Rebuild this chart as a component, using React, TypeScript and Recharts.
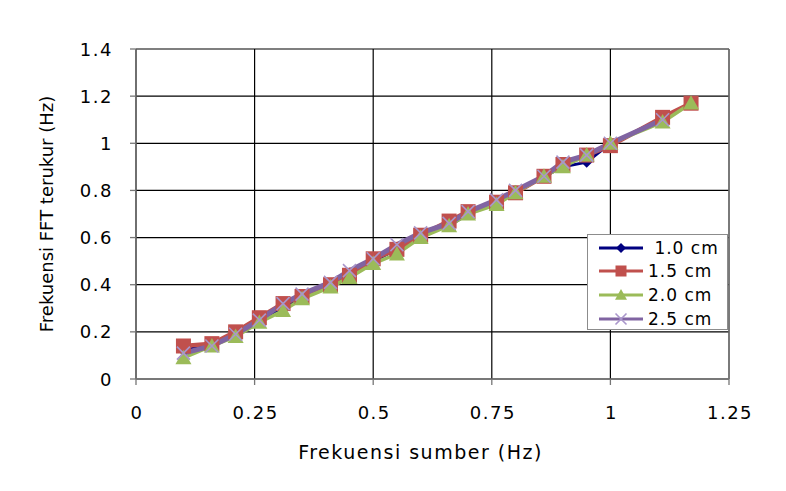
import React from 'react';
import {
    LineChart,
    Line,
    XAxis,
    YAxis,
    CartesianGrid,
    ReferenceLine,
    Label,
} from 'recharts';

// source frequency (Hz) for each measurement
const freqSource = [0.1, 0.16, 0.21, 0.26, 0.31, 0.35, 0.41, 0.45, 0.5, 0.55, 0.6, 0.66, 0.7, 0.76, 0.8, 0.86, 0.9, 0.95, 1.0, 1.11, 1.17];

// measured FFT frequency per water depth
const fft10 = [0.12, 0.15, 0.19, 0.25, 0.3, 0.35, 0.4, 0.45, 0.5, 0.55, 0.61, 0.65, 0.7, 0.75, 0.8, 0.86, 0.9, 0.92, 1.0];
const fft15 = [0.14, 0.15, 0.2, 0.26, 0.32, 0.35, 0.4, 0.44, 0.51, 0.55, 0.61, 0.67, 0.71, 0.75, 0.79, 0.86, 0.91, 0.95, 0.99, 1.11, 1.17];
const fft20 = [0.09, 0.14, 0.18, 0.24, 0.29, 0.34, 0.39, 0.43, 0.49, 0.53, 0.6, 0.65, 0.7, 0.74, 0.79, 0.86, 0.9, 0.95, 1.0, 1.09, 1.17];
const fft25 = [0.11, 0.14, 0.19, 0.25, 0.32, 0.36, 0.41, 0.46, 0.51, 0.57, 0.62, 0.66, 0.71, 0.76, 0.8, 0.86, 0.92, 0.95, 1.0, 1.1];

const seriesNames = [' 1.0 cm', '1.5 cm', '2.0 cm', '2.5 cm'];
const xTicks = [0, 0.25, 0.5, 0.75, 1, 1.25];
const yTicks = [0, 0.2, 0.4, 0.6, 0.8, 1, 1.2, 1.4];

const toPoints = (ys: number[]) => ys.map((y, i) => ({ x: freqSource[i], y }));

const FONT = '"DejaVu Sans", Verdana, sans-serif';
const BLUE = '#000080';
const RED = '#C0504D';
const GREEN = '#9BBB59';
const PURPLE = '#8064A2';
const LAVENDER = '#A996CB';

// marker shapes
const Diamond = ({ cx, cy, s = 5.5 }: any) => (
    <path d={`M${cx},${cy - s} L${cx + s},${cy} L${cx},${cy + s} L${cx - s},${cy} Z`} fill={BLUE} />
);
const Square = ({ cx, cy, s = 7.5 }: any) => (
    <rect x={cx - s} y={cy - s} width={s * 2} height={s * 2} fill={RED} />
);
const Triangle = ({ cx, cy, s = 8 }: any) => (
    <path d={`M${cx},${cy - s} L${cx + s},${cy + s * 0.8} L${cx - s},${cy + s * 0.8} Z`} fill={GREEN} />
);
const Cross = ({ cx, cy, s = 6.5 }: any) => (
    <path d={`M${cx - s},${cy - s} L${cx + s},${cy + s} M${cx + s},${cy - s} L${cx - s},${cy + s}`} stroke={LAVENDER} strokeWidth={1.6} fill="none" />
);

const dotOf = (Shape: any) => (props: any) => <Shape key={`${props.index}`} cx={props.cx} cy={props.cy} />;

const XTick = ({ x, y, payload }: any) => (
    <text x={x + 1} y={y + 32} textAnchor="middle" fontSize={18} letterSpacing={1.5} fill="#000" fontFamily={FONT}>
        {payload.value}
    </text>
);

const YTick = ({ x, y, payload }: any) => (
    <text x={x - 15} y={y + 6.5} textAnchor="end" fontSize={18} letterSpacing={1.5} fill="#000" fontFamily={FONT}>
        {payload.value}
    </text>
);

const YTitle = ({ viewBox }: any) => {
    const cy = viewBox.y + viewBox.height / 2;
    return (
        <text x={53} y={cy} transform={`rotate(-90 53 ${cy})`} textAnchor="middle" fontSize={18} fill="#000" fontFamily={FONT}>
            Frekuensi FFT terukur (Hz)
        </text>
    );
};

const XTitle = ({ viewBox }: any) => {
    const cx = viewBox.x + viewBox.width / 2 - 12;
    return (
        <text x={cx} y={459} textAnchor="middle" fontSize={19} letterSpacing={1.5} fill="#000" fontFamily={FONT}>
            Frekuensi sumber (Hz)
        </text>
    );
};

const legendItems = [
    { name: seriesNames[0], color: BLUE, Shape: Diamond, s: 5 },
    { name: seriesNames[1], color: RED, Shape: Square, s: 5.5 },
    { name: seriesNames[2], color: GREEN, Shape: Triangle, s: 6 },
    { name: seriesNames[3], color: PURPLE, Shape: Cross, s: 5.5 },
];

function ChartLegend() {
    return (
        <div
            style={{
                position: 'absolute',
                left: 587,
                top: 234,
                width: 141,
                height: 96,
                border: '1px solid #8c8c8c',
                background: '#fff',
                fontFamily: FONT,
                fontSize: 17,
                letterSpacing: 1,
                boxSizing: 'border-box',
                paddingTop: 1,
            }}
        >
            {legendItems.map((it) => (
                <div key={it.name} style={{ display: 'flex', alignItems: 'center', height: 23.6 }}>
                    <svg width={60} height={20} style={{ marginLeft: 9 }}>
                        <line x1={2} y1={10} x2={46} y2={10} stroke={it.color} strokeWidth={3} />
                        <it.Shape cx={24} cy={10} s={it.s} />
                    </svg>
                    <span style={{ marginLeft: -9, whiteSpace: 'pre', color: '#000' }}>{it.name}</span>
                </div>
            ))}
        </div>
    );
}

export default function App() {
    return (
        <div style={{ position: 'absolute', left: 0, top: 0, width: 786, height: 491, background: '#fff' }}>
            <LineChart width={786} height={491} margin={{ top: 49, right: 57, left: 0, bottom: 0 }}>
                <CartesianGrid stroke="#000" strokeWidth={1.2} />
                <XAxis
                    type="number"
                    dataKey="x"
                    domain={[0, 1.25]}
                    ticks={xTicks}
                    height={112}
                    tickSize={6}
                    stroke="#767676"
                    strokeWidth={1.3}
                    tick={<XTick />}
                    allowDataOverflow
                >
                    <Label content={<XTitle />} />
                </XAxis>
                <YAxis
                    type="number"
                    dataKey="y"
                    domain={[0, 1.4]}
                    ticks={yTicks}
                    width={136}
                    tickSize={6}
                    stroke="#767676"
                    strokeWidth={1.3}
                    tick={<YTick />}
                    allowDataOverflow
                >
                    <Label content={<YTitle />} />
                </YAxis>
                <ReferenceLine x={1.25} stroke="#868686" strokeWidth={1.3} />
                <Line data={toPoints(fft10)} dataKey="y" name={seriesNames[0]} stroke={BLUE} strokeWidth={3} dot={dotOf(Diamond)} isAnimationActive={false} />
                <Line data={toPoints(fft15)} dataKey="y" name={seriesNames[1]} stroke={RED} strokeWidth={4.5} dot={dotOf(Square)} isAnimationActive={false} />
                <Line data={toPoints(fft20)} dataKey="y" name={seriesNames[2]} stroke={GREEN} strokeWidth={3.5} dot={dotOf(Triangle)} isAnimationActive={false} />
                <Line data={toPoints(fft25)} dataKey="y" name={seriesNames[3]} stroke={PURPLE} strokeWidth={5} dot={dotOf(Cross)} isAnimationActive={false} />
            </LineChart>
            <ChartLegend />
        </div>
    );
}
